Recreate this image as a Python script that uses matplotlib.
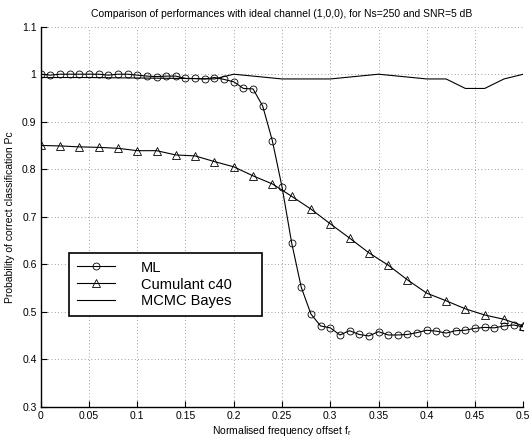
import numpy as np
import matplotlib
matplotlib.use("Agg")
import matplotlib.pyplot as plt

plt.rcParams['font.family'] = ['Liberation Sans', 'DejaVu Sans']
plt.rcParams['mathtext.fontset'] = 'custom'
plt.rcParams['mathtext.rm'] = 'Liberation Sans'
plt.rcParams['mathtext.it'] = 'Liberation Sans'

# ML: every 0.01 from 0 to 0.5
ml_x = [round(0.01 * i, 2) for i in range(51)]
ml_y = [1.0, 0.998, 1.0, 1.0, 1.0, 1.0, 1.0, 0.998, 1.0, 1.0,
        0.998, 0.996, 0.995, 0.996, 0.996, 0.991, 0.991, 0.990, 0.993, 0.989,
        0.984, 0.970, 0.969, 0.933, 0.860, 0.763, 0.645, 0.551, 0.495, 0.470,
        0.466, 0.451, 0.460, 0.452, 0.449, 0.458, 0.451, 0.451, 0.452, 0.456,
        0.461, 0.459, 0.455, 0.460, 0.461, 0.465, 0.467, 0.466, 0.470, 0.472,
        0.468]

# Cumulant c40: every 0.02
cum_x = [round(0.02 * i, 2) for i in range(26)]
cum_y = [0.850, 0.849, 0.847, 0.846, 0.844, 0.839, 0.839, 0.830, 0.828, 0.816,
         0.805, 0.786, 0.769, 0.743, 0.716, 0.685, 0.655, 0.624, 0.598, 0.567,
         0.539, 0.523, 0.506, 0.493, 0.484, 0.470]

# MCMC Bayes
mcmc_x = [0, 0.05, 0.1, 0.15, 0.18, 0.2, 0.25, 0.3, 0.35, 0.4, 0.42, 0.44, 0.46, 0.48, 0.5]
mcmc_y = [0.993, 0.993, 0.992, 0.991, 0.990, 1.0, 0.990, 0.990, 1.0, 0.990, 0.990, 0.970, 0.970, 0.990, 1.0]

xticks = [0, 0.05, 0.1, 0.15, 0.2, 0.25, 0.3, 0.35, 0.4, 0.45, 0.5]
xticklabels = ["0", "0.05", "0.1", "0.15", "0.2", "0.25", "0.3", "0.35", "0.4", "0.45", "0.5"]
yticks = [0.3, 0.4, 0.5, 0.6, 0.7, 0.8, 0.9, 1.0, 1.1]
yticklabels = ["0.3", "0.4", "0.5", "0.6", "0.7", "0.8", "0.9", "1", "1.1"]

fig = plt.figure(figsize=(5.31, 4.41), dpi=100)
W, H = 531, 441
ax = fig.add_axes([40.7 / W, 1 - 406.7 / H, (523.3 - 40.7) / W, (406.7 - 26.7) / H])

lw = 0.8
ax.plot(ml_x, ml_y, color='black', lw=lw, marker='o', markersize=5,
        markerfacecolor='none', markeredgecolor='black', markeredgewidth=0.6, label='ML')
ax.plot(cum_x, cum_y, color='black', lw=lw, marker='^', markersize=5.5,
        markerfacecolor='none', markeredgecolor='black', markeredgewidth=0.6, label='Cumulant c40')
ax.plot(mcmc_x, mcmc_y, color='black', lw=lw, label='MCMC Bayes')

ax.set_xlim(0, 0.5)
ax.set_ylim(0.3, 1.1)
ax.set_xticks(xticks)
ax.set_xticklabels(xticklabels)
ax.set_yticks(yticks)
ax.set_yticklabels(yticklabels)
ax.tick_params(direction='in', length=4, width=0.8, labelsize=7.5, pad=3)

ax.grid(True, color='0.5', linestyle=(0, (1, 3)), linewidth=0.6)
for s in ['top', 'right']:
    ax.spines[s].set_visible(False)
for s in ['left', 'bottom']:
    ax.spines[s].set_linewidth(1.0)

ax.set_title('Comparison of performances with ideal channel (1,0,0), for Ns=250 and SNR=5 dB',
             fontsize=7.5, pad=7)
ax.set_xlabel('Normalised frequency offset f$_r$', fontsize=7.5, labelpad=2)
ax.set_ylabel('Probability of correct classification Pc', fontsize=7.5, labelpad=5)

lx0, lx1, ly0, ly1 = 69.3, 261.7, 253.3, 317.7
leg = ax.legend(loc='upper left',
                bbox_to_anchor=(lx0 / W, 1 - ly1 / H, (lx1 - lx0) / W, (ly1 - ly0) / H),
                mode='expand',
                bbox_transform=fig.transFigure, fontsize=10.5, frameon=True,
                fancybox=False, framealpha=1, edgecolor='black',
                handlelength=2.6, handletextpad=1.8, labelspacing=0.2,
                borderpad=0.5, borderaxespad=0)
leg.get_frame().set_linewidth(1.2)

fig.savefig('out.png', dpi=100, facecolor='white')
